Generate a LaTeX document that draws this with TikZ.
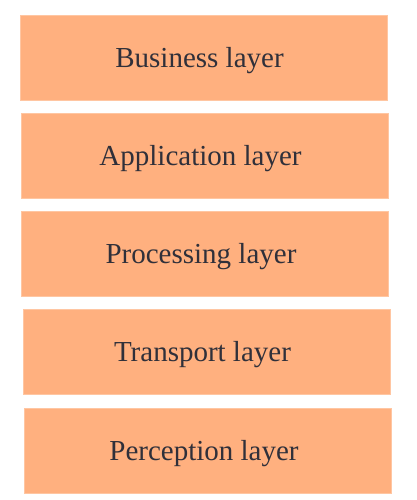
\documentclass[tikz,border=0pt]{standalone}
\usepackage{fontspec}
\setmainfont{Liberation Serif}
\usepackage{xcolor}
\usetikzlibrary{positioning}
\definecolor{layerfill}{HTML}{FFB07F}
\definecolor{layeredge}{HTML}{FFC6A2}
\definecolor{layerink}{HTML}{30303A}
\tikzset{
    layerbox/.style={draw=layeredge, line width=0.8pt, fill=layerfill, minimum width=367pt, minimum height=85pt, inner sep=0pt, text height=22pt, text depth=1.6pt, text=layerink, font=\fontsize{29}{33}\selectfont}
}

\begin{document}
\begin{tikzpicture}[x=1pt,y=1pt]
    \useasboundingbox (0,0) rectangle (417,500);
    % five stacked layers, slightly shifted right going down
    \foreach \x/\y/\n/\t in {203.5/442.5/business/Business layer, 204.5/344.5/application/Application layer, 205/246.5/processing/Processing layer, 206.5/148.5/transport/Transport layer, 208/49.5/perception/Perception layer} {
        \node[layerbox] (\n) at (\x,\y) {\t\kern8pt};
    }
\end{tikzpicture}
\end{document}
